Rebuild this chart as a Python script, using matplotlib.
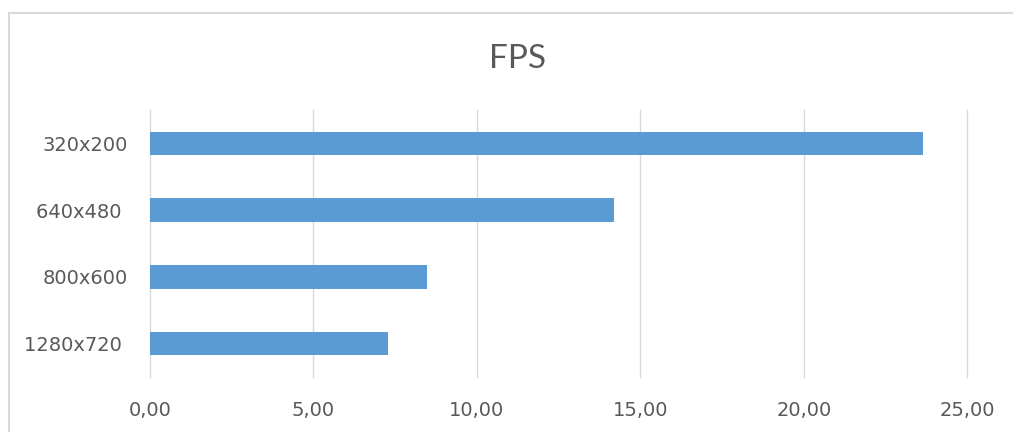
import matplotlib.pyplot as plt
from matplotlib.lines import Line2D
from matplotlib.ticker import FuncFormatter

resolutions = ['320x200', '640x480 ', '800x600', '1280x720 ']
fps = [23.65, 14.19, 8.46, 7.28]
x_ticks = [0, 5, 10, 15, 20, 25]

bar_color = '#5b9bd5'
text_color = '#595959'
grid_color = '#d9d9d9'

fig = plt.figure(figsize=(10.13, 4.32), dpi=100)
ax = fig.add_axes([150 / 1013, 1 - 377 / 432, (967.3 - 150) / 1013, (377 - 110) / 432])

# outer chart frame: only top and left edges are inside the picture
fx, fy = 9 / 1013, 1 - 13 / 432
fig.add_artist(Line2D([fx, 1.01], [fy, fy], transform=fig.transFigure,
                      color=grid_color, linewidth=1.5))
fig.add_artist(Line2D([fx, fx], [-0.01, fy], transform=fig.transFigure,
                      color=grid_color, linewidth=1.5))

ypos = list(range(len(resolutions)))
ax.barh(ypos, fps, height=0.35, color=bar_color, zorder=3)
ax.set_ylim(len(resolutions) - 0.5, -0.5)
ax.set_yticks(ypos)
ax.set_yticklabels(resolutions)

ax.set_xlim(0, 25)
ax.set_xticks(x_ticks)
ax.xaxis.set_major_formatter(FuncFormatter(lambda v, p: f'{v:.2f}'.replace('.', ',')))
for gl in ax.get_xgridlines():
    gl.set_clip_on(False)
ax.grid(axis='x', color=grid_color, linewidth=1, zorder=0)
for gl in ax.get_xgridlines():
    gl.set_clip_on(False)
ax.tick_params(length=0, labelsize=14, labelcolor=text_color)
ax.tick_params(axis='x', pad=17)
ax.tick_params(axis='y', pad=16)
for s in ax.spines.values():
    s.set_visible(False)

fig.text(517 / 1013, 1 - 59 / 432, 'FPS', ha='center', va='center',
         fontsize=24, family='Lato', color=text_color)

fig.savefig('out.png', dpi=100)
